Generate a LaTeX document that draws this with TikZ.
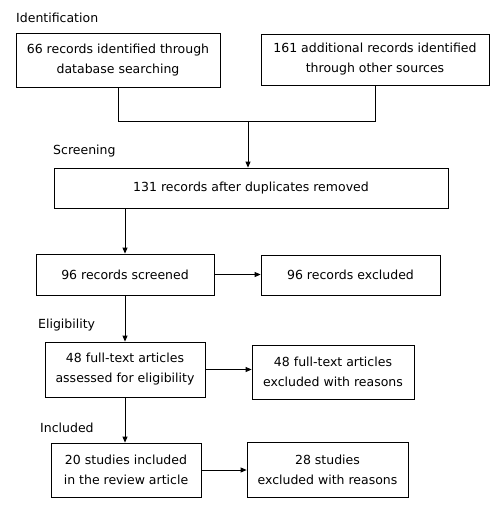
\documentclass[tikz,border=0pt]{standalone}
\usepackage{fontspec}
\setmainfont{DejaVu Sans}
\usetikzlibrary{arrows.meta}
\begin{document}
\begin{tikzpicture}[x=1pt,y=-1pt,
  font=\fontsize{12.5}{20}\selectfont,
  box/.style={draw, line width=0.8pt, inner sep=0pt, align=center},
  lab/.style={anchor=west, inner sep=0pt},
  arr/.style={line width=0.8pt, -{Triangle[length=6pt,width=5pt]}},
  ln/.style={line width=0.8pt}]
\useasboundingbox[fill=white] (0,0) rectangle (500,513);
\node[lab] (l1) at (16,18) {Identification};
\node[lab] (l2) at (53,151) {Screening};
\node[lab] (l3) at (38,325) {Eligibility};
\node[lab] (l4) at (40,428) {Included};
\node[box, minimum width=204pt, minimum height=54pt] (b1) at (118,60) {66 records identified through\\database searching};
\node[box, minimum width=228pt, minimum height=51pt] (b2) at (375,59.5) {161 additional records identified\\through other sources};
\node[box, minimum width=394pt, minimum height=40pt] (b3) at (251,188) {131 records after duplicates removed};
\node[box, minimum width=178pt, minimum height=41pt] (b4) at (125,274.5) {96 records screened};
\node[box, minimum width=179pt, minimum height=40pt] (b5) at (350.5,275) {96 records excluded};
\node[box, minimum width=160pt, minimum height=55pt] (b6) at (125,369.5) {48 full-text articles\\assessed for eligibility};
\node[box, minimum width=162pt, minimum height=54pt] (b7) at (333,372) {48 full-text articles\\excluded with reasons};
\node[box, minimum width=150pt, minimum height=54pt] (b8) at (126,470) {20 studies included\\in the review article};
\node[box, minimum width=161pt, minimum height=55pt] (b9) at (327.5,469.5) {28 studies\\excluded with reasons};
\coordinate (j) at (248,121);
\draw[ln] (b1.south) |- (j);
\draw[ln] (b2.south) |- (j);
\draw[arr] (j) -- (j |- b3.north);
\draw[arr] (b3.south -| b4.north) -- (b4.north);
\draw[arr] (b4.east) -- (b4.east -| b5.west);
\draw[arr] (b4.south) -- (b6.north);
\draw[arr] (b6.east) -- (b6.east -| b7.west);
\draw[arr] (b6.south) -- (b6.south |- b8.north);
\draw[arr] (b8.east) -- (b8.east -| b9.west);
\end{tikzpicture}
\end{document}
